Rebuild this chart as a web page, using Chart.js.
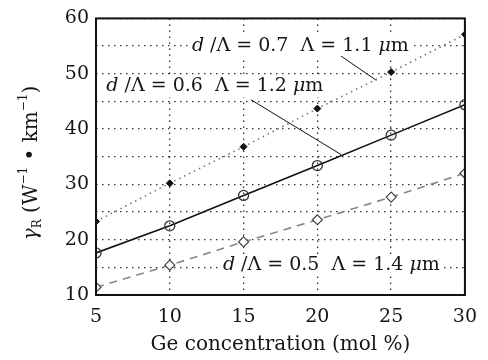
<!DOCTYPE html>
<html>
<head>
<meta charset="utf-8">
<script src="https://cdn.jsdelivr.net/npm/chart.js@4/dist/chart.umd.min.js"></script>
<style>
  html, body { margin: 0; padding: 0; background: #fff; }
  canvas { display: block; }
</style>
</head>
<body>
<canvas id="chart" width="488" height="360"></canvas>
<script>
const concentration = [5, 10, 15, 20, 25, 30];
const gamma07 = [23.3, 30.2, 36.8, 43.7, 50.3, 57.1];
const gamma06 = [17.6, 22.5, 28.0, 33.4, 38.9, 44.4];
const gamma05 = [11.4, 15.4, 19.6, 23.6, 27.7, 32.0];

const SERIF = `"DejaVu Serif", "Liberation Serif", serif`;
const TEXT_COLOR = `#161616`;
const LABEL_SIZE = 19;

// labels inside the plot, anchored in data units
const labels = [
  {x: 11.5, y: 55, runs: [[`d`, true], [` /Λ = 0.7  Λ = 1.1 `, false], [`μ`, true], [`m`, false]]},
  {x: 5.7, y: 47.7, runs: [[`d`, true], [` /Λ = 0.6  Λ = 1.2 `, false], [`μ`, true], [`m`, false]]},
  {x: 13.6, y: 15.4, runs: [[`d`, true], [` /Λ = 0.5  Λ = 1.4 `, false], [`μ`, true], [`m`, false]]},
];
const leaders = [
  [21.6, 53.2, 24.0, 48.8],
  [15.5, 45.3, 21.6, 35.4],
];

const toPoints = (ys) => concentration.map((x, i) => ({x, y: ys[i]}));

const font = (size, italic) => `${italic ? `italic ` : ``}${size}px ${SERIF}`;

const drawRuns = (ctx, runs, x, y, size) => {
  let cx = x;
  runs.forEach(([txt, italic]) => {
    ctx.font = font(size, italic);
    ctx.fillText(txt, cx, y);
    cx += ctx.measureText(txt).width;
  });
  return cx - x;
};

const measureRuns = (ctx, runs, size) => runs.reduce((acc, [txt, italic]) => {
  ctx.font = font(size, italic);
  return acc + ctx.measureText(txt).width;
}, 0);

const decorations = {
  id: `decorations`,
  beforeDatasetsDraw(chart) {
    const {ctx, scales: {x: xs, y: ys}} = chart;
    ctx.save();
    ctx.textBaseline = `middle`;
    ctx.textAlign = `left`;
    labels.forEach((it) => {
      const px = xs.getPixelForValue(it.x);
      const py = ys.getPixelForValue(it.y);
      const w = measureRuns(ctx, it.runs, LABEL_SIZE);
      ctx.fillStyle = `#fff`;
      ctx.fillRect(px - 2, py - 11, w + 4, 22);
      ctx.fillStyle = TEXT_COLOR;
      drawRuns(ctx, it.runs, px, py, LABEL_SIZE);
    });
    ctx.strokeStyle = `#111`;
    ctx.lineWidth = 1;
    leaders.forEach(([x1, y1, x2, y2]) => {
      ctx.beginPath();
      ctx.moveTo(xs.getPixelForValue(x1), ys.getPixelForValue(y1));
      ctx.lineTo(xs.getPixelForValue(x2), ys.getPixelForValue(y2));
      ctx.stroke();
    });
    ctx.restore();
  },
  afterDraw(chart) {
    const {ctx, chartArea: a} = chart;
    ctx.save();
    // frame
    ctx.strokeStyle = `#111`;
    ctx.lineWidth = 2;
    ctx.strokeRect(a.left, a.top, a.right - a.left, a.bottom - a.top);

    // x title
    ctx.fillStyle = TEXT_COLOR;
    ctx.textAlign = `center`;
    ctx.textBaseline = `middle`;
    ctx.font = font(20, false);
    ctx.fillText(`Ge concentration (mol %)`, (a.left + a.right) / 2, 345);

    // y title, rotated, with sub/superscripts
    ctx.translate(30, 163);
    ctx.rotate(-Math.PI / 2);
    ctx.textAlign = `left`;
    ctx.textBaseline = `alphabetic`;
    const parts = [
      [`γ`, 20, true, 0],
      [`R`, 12, false, 4],
      [` (W`, 20, false, 0],
      [`−1`, 12, false, -10],
      [` • km`, 20, false, 0],
      [`−1`, 12, false, -10],
      [`)`, 20, false, 0],
    ];
    const total = parts.reduce((acc, [t, s, it]) => {
      ctx.font = font(s, it);
      return acc + ctx.measureText(t).width;
    }, 0);
    let cx = -total / 2;
    parts.forEach(([t, s, it, dy]) => {
      ctx.font = font(s, it);
      ctx.fillText(t, cx, 7 + dy);
      cx += ctx.measureText(t).width;
    });
    ctx.restore();
  },
};

const gridOpts = {color: `#333`, lineWidth: 1.3, drawTicks: false};
const borderOpts = {display: false, dash: [1.5, 4.5]};

new Chart(document.getElementById(`chart`), {
  type: `line`,
  data: {
    datasets: [
      {
        label: `d/Λ = 0.7`,
        data: toPoints(gamma07),
        borderColor: `#777`,
        borderWidth: 1.6,
        borderDash: [1.5, 4],
        pointStyle: `rectRot`,
        pointRadius: 3.5,
        pointBackgroundColor: `#111`,
        pointBorderColor: `#111`,
        pointBorderWidth: 1,
      },
      {
        label: `d/Λ = 0.6`,
        data: toPoints(gamma06),
        borderColor: `#111`,
        borderWidth: 1.6,
        pointStyle: `circle`,
        pointRadius: 5,
        pointBackgroundColor: `rgba(0,0,0,0)`,
        pointBorderColor: `#333`,
        pointBorderWidth: 1.3,
      },
      {
        label: `d/Λ = 0.5`,
        data: toPoints(gamma05),
        borderColor: `#888`,
        borderWidth: 1.6,
        borderDash: [8, 6],
        pointStyle: `rectRot`,
        pointRadius: 5,
        pointBackgroundColor: `#fff`,
        pointBorderColor: `#444`,
        pointBorderWidth: 1.2,
      },
    ],
  },
  options: {
    responsive: false,
    animation: false,
    events: [],
    layout: {padding: {left: 0, right: 13, top: 15, bottom: 0}},
    plugins: {legend: {display: false}, tooltip: {enabled: false}},
    scales: {
      x: {
        type: `linear`,
        min: 5,
        max: 30,
        ticks: {stepSize: 5, color: TEXT_COLOR, font: {family: SERIF, size: 19}, padding: 11},
        grid: gridOpts,
        border: borderOpts,
        afterFit: (scale) => { scale.height = 65; },
      },
      y: {
        min: 10,
        max: 60,
        ticks: {
          stepSize: 5,
          color: TEXT_COLOR,
          font: {family: SERIF, size: 19},
          padding: 7,
          callback: (v) => (v % 10 === 0 ? v : ``),
        },
        grid: gridOpts,
        border: borderOpts,
        afterFit: (scale) => { scale.width = 96; },
      },
    },
  },
  plugins: [decorations],
});
</script>
</body>
</html>
